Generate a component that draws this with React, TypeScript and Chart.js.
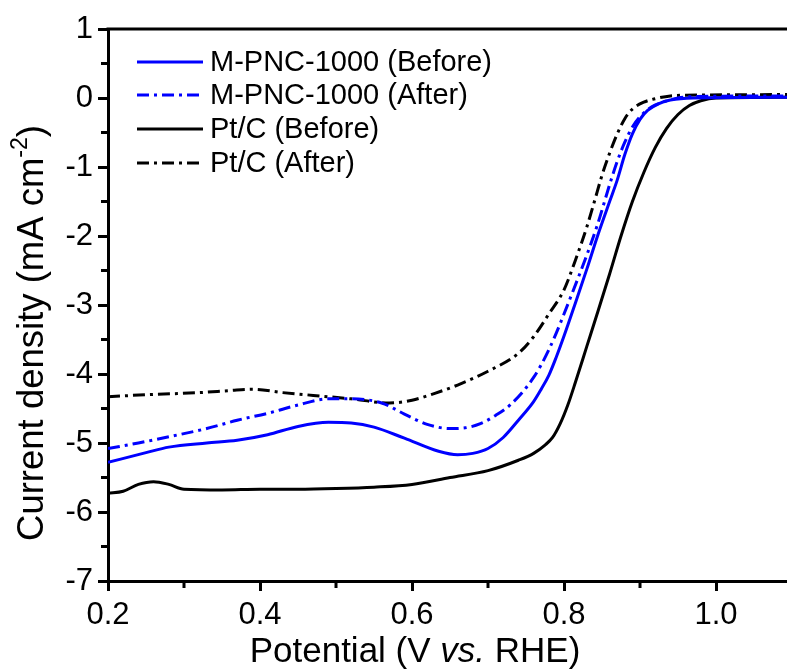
import { useEffect, useRef } from 'react';
import { Chart, registerables } from 'chart.js';
Chart.register(...registerables);

const FONT = "Arial, 'Liberation Sans', Helvetica, sans-serif";

const seriesLabels = ['M-PNC-1000 (Before)', 'M-PNC-1000 (After)', 'Pt/C (Before)', 'Pt/C (After)'];
const seriesColors = ['#0000ff', '#0000ff', '#000000', '#000000'];
const seriesDashed = [false, true, false, true];

const mpncBeforeX = [0.20, 0.25, 0.28, 0.33, 0.37, 0.41, 0.45, 0.49, 0.52, 0.55, 0.59, 0.635, 0.66, 0.68, 0.70, 0.72, 0.74, 0.76, 0.77, 0.78, 0.79, 0.80, 0.815, 0.83, 0.845, 0.86, 0.87, 0.88, 0.89, 0.90, 0.91, 0.925, 0.94, 0.97, 1.10];
const mpncBeforeY = [-5.28, -5.14, -5.06, -5.00, -4.96, -4.88, -4.76, -4.70, -4.71, -4.77, -4.93, -5.12, -5.17, -5.15, -5.08, -4.92, -4.67, -4.40, -4.22, -4.02, -3.75, -3.45, -2.97, -2.48, -1.97, -1.50, -1.19, -0.82, -0.52, -0.31, -0.18, -0.08, -0.03, 0.00, 0.01];

const mpncAfterX = [0.20, 0.24, 0.28, 0.33, 0.37, 0.41, 0.45, 0.49, 0.52, 0.56, 0.59, 0.62, 0.65, 0.67, 0.69, 0.71, 0.73, 0.76, 0.78, 0.81, 0.843, 0.861, 0.87, 0.88, 0.89, 0.90, 0.915, 0.93, 0.95, 0.97, 1.10];
const mpncAfterY = [-5.08, -5.00, -4.91, -4.79, -4.67, -4.57, -4.45, -4.36, -4.36, -4.42, -4.58, -4.73, -4.79, -4.78, -4.72, -4.60, -4.44, -4.05, -3.65, -2.85, -1.87, -1.22, -0.92, -0.64, -0.42, -0.27, -0.13, -0.06, 0.00, 0.02, 0.03];

const ptcBeforeX = [0.20, 0.22, 0.24, 0.26, 0.28, 0.30, 0.35, 0.40, 0.45, 0.50, 0.55, 0.60, 0.65, 0.70, 0.74, 0.76, 0.775, 0.785, 0.795, 0.805, 0.815, 0.83, 0.845, 0.86, 0.875, 0.89, 0.905, 0.92, 0.935, 0.95, 0.965, 0.98, 1.00, 1.10];
const ptcBeforeY = [-5.73, -5.70, -5.60, -5.56, -5.60, -5.67, -5.68, -5.67, -5.67, -5.66, -5.64, -5.60, -5.50, -5.40, -5.25, -5.15, -5.03, -4.92, -4.72, -4.45, -4.12, -3.60, -3.08, -2.55, -2.00, -1.50, -1.08, -0.72, -0.44, -0.24, -0.11, -0.04, 0.00, 0.01];

const ptcAfterX = [0.20, 0.25, 0.32, 0.36, 0.39, 0.43, 0.47, 0.52, 0.57, 0.60, 0.63, 0.66, 0.70, 0.74, 0.76, 0.78, 0.80, 0.815, 0.83, 0.84, 0.85, 0.86, 0.87, 0.88, 0.89, 0.905, 0.92, 0.94, 0.96, 1.10];
const ptcAfterY = [-4.33, -4.30, -4.27, -4.24, -4.22, -4.27, -4.31, -4.36, -4.42, -4.38, -4.28, -4.16, -3.96, -3.70, -3.46, -3.13, -2.78, -2.35, -1.87, -1.50, -1.12, -0.80, -0.52, -0.30, -0.16, -0.06, -0.01, 0.03, 0.04, 0.05];

const seriesX = [mpncBeforeX, mpncAfterX, ptcBeforeX, ptcAfterX];
const seriesY = [mpncBeforeY, mpncAfterY, ptcBeforeY, ptcAfterY];

const xMajorTicks = [0.2, 0.4, 0.6, 0.8, 1.0];
const xMinorTicks = [0.3, 0.5, 0.7, 0.9, 1.1];
const yMajorTicks = [1, 0, -1, -2, -3, -4, -5, -6, -7];
const yMinorTicks = [0.5, -0.5, -1.5, -2.5, -3.5, -4.5, -5.5, -6.5];

const X_MIN = 0.2;
const X_MAX = 1.0934;
const Y_MIN = -7;
const Y_MAX = 1;

const DASH = [12, 5, 3, 5];

const overlay = {
  id: 'overlay',
  afterDraw(chart: any) {
    const { ctx, chartArea: a, scales } = chart;
    const x = scales.x;
    const y = scales.y;
    ctx.save();
    ctx.strokeStyle = '#000';
    ctx.lineWidth = 3;
    ctx.setLineDash([]);
    ctx.beginPath();
    ctx.moveTo(a.left - 1.5, a.top);
    ctx.lineTo(a.right, a.top);
    ctx.stroke();
    ctx.beginPath();
    xMinorTicks.forEach((v) => {
      const px = x.getPixelForValue(v);
      if (px > a.right) return;
      ctx.moveTo(px, a.bottom);
      ctx.lineTo(px, a.bottom + 7);
    });
    yMinorTicks.forEach((v) => {
      const py = y.getPixelForValue(v);
      ctx.moveTo(a.left, py);
      ctx.lineTo(a.left - 7, py);
    });
    ctx.stroke();

    // legend
    const lx0 = a.left + 29;
    const lx1 = a.left + 95;
    const rows = [62, 95, 129, 163];
    ctx.font = `29px ${FONT}`;
    ctx.textBaseline = 'middle';
    ctx.textAlign = 'left';
    seriesLabels.forEach((lab, i) => {
      const ry = rows[i];
      ctx.strokeStyle = seriesColors[i];
      ctx.lineWidth = 3;
      ctx.setLineDash(seriesDashed[i] ? DASH : []);
      ctx.beginPath();
      ctx.moveTo(lx0, ry);
      ctx.lineTo(lx1, ry);
      ctx.stroke();
      ctx.fillStyle = '#000';
      ctx.fillText(lab, lx1 + 7, ry + 1);
    });
    ctx.setLineDash([]);

    // x title
    ctx.fillStyle = '#000';
    ctx.textBaseline = 'alphabetic';
    const fN = `35px ${FONT}`;
    const fI = `italic 35px ${FONT}`;
    const p1 = 'Potential (V ';
    const p2 = 'vs.';
    const p3 = ' RHE)';
    ctx.font = fN;
    const w1 = ctx.measureText(p1).width;
    const w3 = ctx.measureText(p3).width;
    ctx.font = fI;
    const w2 = ctx.measureText(p2).width;
    const sx = 415 - (w1 + w2 + w3) / 2;
    ctx.font = fN;
    ctx.fillText(p1, sx, 662);
    ctx.font = fI;
    ctx.fillText(p2, sx + w1, 662);
    ctx.font = fN;
    ctx.fillText(p3, sx + w1 + w2, 662);

    // y title
    ctx.save();
    ctx.translate(33, 333);
    ctx.rotate(-Math.PI / 2);
    ctx.textBaseline = 'middle';
    const q1 = 'Current density (mA cm';
    const q2 = '-2';
    const q3 = ')';
    const fY = `36.5px ${FONT}`;
    const fS = `23px ${FONT}`;
    ctx.font = fY;
    const v1 = ctx.measureText(q1).width;
    const v3 = ctx.measureText(q3).width;
    ctx.font = fS;
    const v2 = ctx.measureText(q2).width;
    const st = -(v1 + v2 + v3) / 2;
    ctx.font = fY;
    ctx.fillText(q1, st, 0);
    ctx.font = fS;
    ctx.fillText(q2, st + v1, -12);
    ctx.font = fY;
    ctx.fillText(q3, st + v1 + v2, 0);
    ctx.restore();

    ctx.restore();
  },
};

export default function App() {
  const ref = useRef<HTMLCanvasElement | null>(null);
  useEffect(() => {
    if (!ref.current) return;
    const datasets = seriesLabels.map((lab, i) => ({
      label: lab,
      data: seriesX[i].map((xv, j) => ({ x: xv, y: seriesY[i][j] })),
      borderColor: seriesColors[i],
      backgroundColor: seriesColors[i],
      borderWidth: 3,
      borderDash: seriesDashed[i] ? DASH : [],
      pointRadius: 0,
      fill: false,
      cubicInterpolationMode: 'monotone' as const,
    }));
    const chart = new Chart(ref.current, {
      type: 'line',
      data: { datasets },
      options: {
        responsive: false,
        animation: false,
        layout: { padding: { top: 29, right: 0, left: 0, bottom: 0 } },
        plugins: { legend: { display: false }, tooltip: { enabled: false } },
        scales: {
          x: {
            type: 'linear',
            min: X_MIN,
            max: X_MAX,
            afterBuildTicks: (s: any) => {
              s.ticks = xMajorTicks.map((v) => ({ value: v }));
            },
            afterFit: (s: any) => {
              s.height = 90;
            },
            grid: { display: true, drawOnChartArea: false, drawTicks: true, tickLength: 10, tickWidth: 3, tickColor: '#000' },
            border: { display: true, width: 3, color: '#000' },
            ticks: {
              color: '#000',
              font: { family: FONT, size: 31 },
              padding: 6,
              maxRotation: 0,
              autoSkip: false,
              callback: (v: any) => Number(v).toFixed(1),
            },
          },
          y: {
            type: 'linear',
            min: Y_MIN,
            max: Y_MAX,
            afterBuildTicks: (s: any) => {
              s.ticks = yMajorTicks.map((v) => ({ value: v }));
            },
            afterFit: (s: any) => {
              s.width = 108;
            },
            grid: { display: true, drawOnChartArea: false, drawTicks: true, tickLength: 10, tickWidth: 3, tickColor: '#000' },
            border: { display: true, width: 3, color: '#000' },
            ticks: {
              color: '#000',
              font: { family: FONT, size: 31 },
              padding: 5,
              autoSkip: false,
              callback: (v: any) => String(v),
            },
          },
        },
      },
      plugins: [overlay],
    });
    return () => chart.destroy();
  }, []);
  return (
    <canvas
      ref={ref}
      width={787}
      height={671}
      style={{ position: 'absolute', left: 0, top: 0, display: 'block', background: '#fff' }}
    />
  );
}
